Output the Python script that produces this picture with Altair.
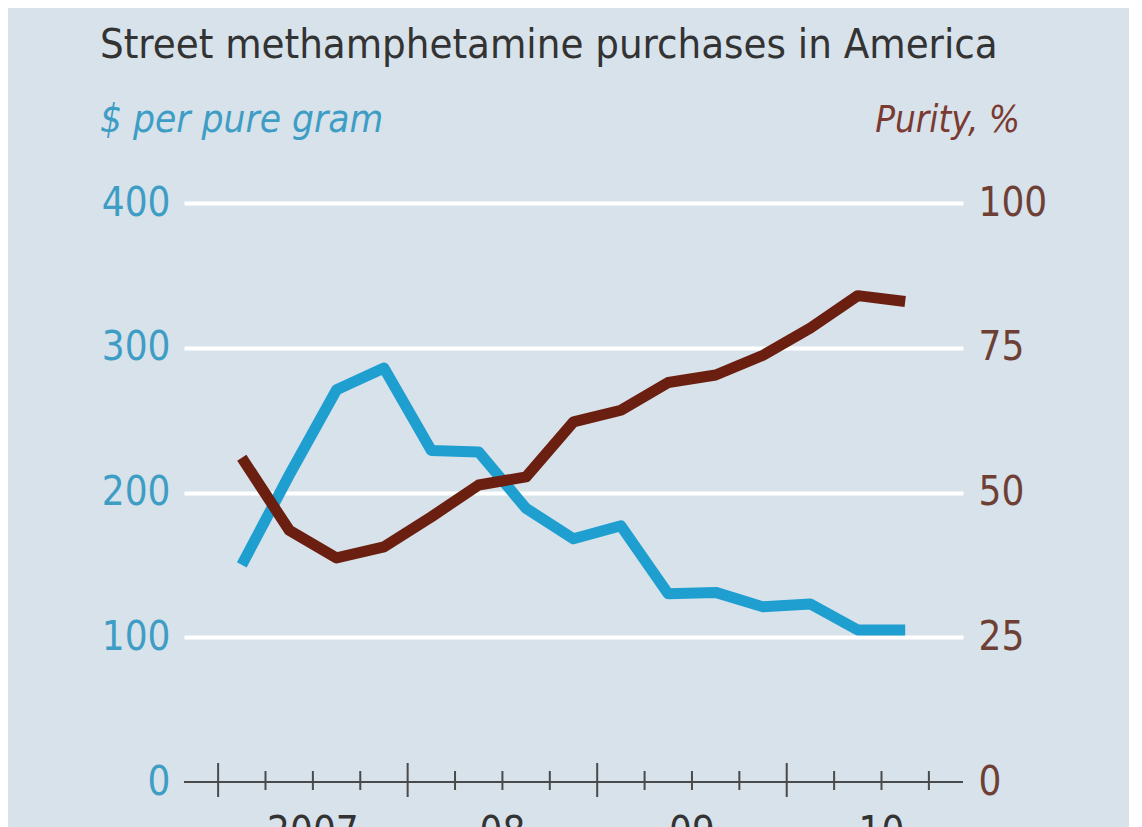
import altair as alt
import pandas as pd

# ---- data ----
periods = ["2007 Q1", "2007 Q2", "2007 Q3", "2007 Q4",
           "2008 Q1", "2008 Q2", "2008 Q3", "2008 Q4",
           "2009 Q1", "2009 Q2", "2009 Q3", "2009 Q4",
           "2010 Q1", "2010 Q2", "2010 Q3"]
price = [150, 212, 271, 286, 229, 228, 189, 168, 177, 130, 131, 121, 123, 105, 105]
purity = [56, 43.5, 38.7, 40.6, 45.8, 51.3, 52.7, 62.2, 64.2, 69, 70.3, 73.7, 78.4, 84, 83]
tick_years = [2007, 2008, 2009, 2010]
year_labels = ["2007", "08", "09", "10"]
price_ticks = [0, 100, 200, 300, 400]
purity_ticks = [0, 25, 50, 75, 100]

TITLE = "Street methamphetamine purchases in America"
LEFT_LABEL = "$ per pure gram"
RIGHT_LABEL = "Purity, %"

# ---- styles ----
BG = "#d7e2ea"
BLUE = "#1f9fd0"
BROWN = "#6b1f10"
BLUE_TXT = "#3e9dc5"
BROWN_TXT = "#6e3f35"
BROWN_SUB = "#7a3a32"
DARK = "#333333"
AXIS = "#4a4a4a"
FONT = "DejaVu Sans Condensed, Liberation Sans Narrow, DejaVu Sans, sans-serif"

W, H = 779, 579

df = pd.DataFrame({"period": periods, "price": price, "purity": purity})
df["t"] = [int(p[:4]) + (int(p[-1]) - 0.5) / 4 for p in periods]

ticks = pd.DataFrame([{"t": y + q / 4, "major": q == 0} for y in tick_years for q in range(4)])
years_df = pd.DataFrame({"t": [y + 0.5 for y in tick_years], "lbl": year_labels})

xscale = alt.Scale(domain=[2006.82, 2010.93], nice=False, zero=False)

blue_line = alt.Chart(df).mark_line(color=BLUE, strokeWidth=11, strokeCap="butt", strokeJoin="round").encode(
    x=alt.X("t:Q", scale=xscale, axis=None),
    y=alt.Y("price:Q", scale=alt.Scale(domain=[0, 400], nice=False),
            axis=alt.Axis(orient="left", values=price_ticks, title=None, grid=True,
                          gridColor="white", gridWidth=4,
                          gridOpacity=alt.condition("datum.value === 0", alt.value(0), alt.value(1)),
                          domain=False, ticks=False, labelColor=BLUE_TXT, labelFontSize=40,
                          labelFont=FONT, labelPadding=14, labelOverlap=False)),
)

brown_line = alt.Chart(df).mark_line(color=BROWN, strokeWidth=11, strokeCap="butt", strokeJoin="round").encode(
    x=alt.X("t:Q", scale=xscale, axis=None),
    y=alt.Y("purity:Q", scale=alt.Scale(domain=[0, 100], nice=False),
            axis=alt.Axis(orient="right", values=purity_ticks, title=None, grid=False,
                          domain=False, ticks=False, labelColor=BROWN_TXT, labelFontSize=40,
                          labelFont=FONT, labelPadding=15, labelOverlap=False)),
)

baseline = alt.Chart(pd.DataFrame({"a": [0]})).mark_rule(color=AXIS, strokeWidth=2).encode(
    x=alt.value(0), x2=alt.value(W), y=alt.value(H)
)

minor_ticks = alt.Chart(ticks).transform_filter("!datum.major").mark_rule(color=AXIS, strokeWidth=2).encode(
    x=alt.X("t:Q", scale=xscale, axis=None), y=alt.value(H - 11), y2=alt.value(H + 8)
)
major_ticks = alt.Chart(ticks).transform_filter("datum.major").mark_rule(color=AXIS, strokeWidth=2).encode(
    x=alt.X("t:Q", scale=xscale, axis=None), y=alt.value(H - 19), y2=alt.value(H + 15)
)

year_text = alt.Chart(years_df).mark_text(font=FONT, fontSize=40, color=DARK, baseline="top", align="center").encode(
    x=alt.X("t:Q", scale=xscale, axis=None), y=alt.value(H + 31), text="lbl:N"
)

title = alt.Chart(pd.DataFrame({"s": [TITLE]})).mark_text(
    font=FONT, fontSize=41.5, color=DARK, align="left", baseline="alphabetic").encode(
    x=alt.value(-84), y=alt.value(-145), text="s:N")

sub_left = alt.Chart(pd.DataFrame({"s": [LEFT_LABEL]})).mark_text(
    font=FONT, fontSize=38.5, fontStyle="italic", color=BLUE_TXT, align="left", baseline="alphabetic").encode(
    x=alt.value(-84), y=alt.value(-71), text="s:N")

sub_right = alt.Chart(pd.DataFrame({"s": [RIGHT_LABEL]})).mark_text(
    font=FONT, fontSize=36.5, fontStyle="italic", color=BROWN_SUB, align="right", baseline="alphabetic").encode(
    x=alt.value(836), y=alt.value(-71), text="s:N")

chart = alt.layer(
    blue_line, brown_line, baseline, minor_ticks, major_ticks, year_text, title, sub_left, sub_right
).resolve_scale(y="independent").properties(
    width=W, height=H,
    autosize=alt.AutoSizeParams(type="none"),
    padding={"left": 176, "top": 195, "right": 166, "bottom": 45},
    background=BG,
).configure_view(stroke=None)

chart.save("out.html", embed_options={"renderer": "svg", "actions": False})
